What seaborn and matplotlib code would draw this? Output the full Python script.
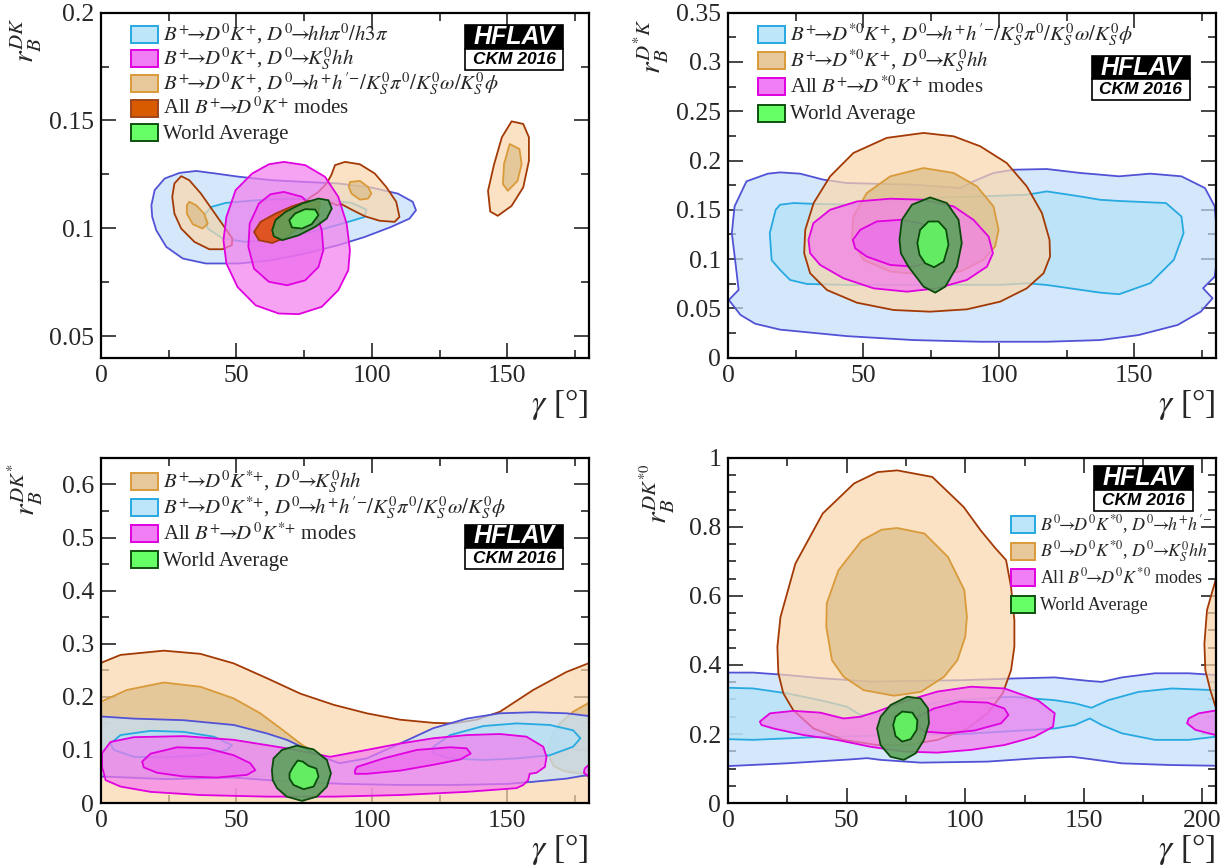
import numpy as np
import matplotlib
matplotlib.use("Agg")
import matplotlib.pyplot as plt
import seaborn as sns
from matplotlib.patches import Rectangle
from matplotlib.colors import to_rgba
from matplotlib.ticker import MultipleLocator, FuncFormatter

# ---------------- data: contour outlines, (gamma [deg], r_B) ----------------
# panel 1 : B+ -> D0 K+
dk_glw_out = [(18.6, .1107), (19.8, .1177), (23.5, .1231), (29.0, .1257), (35.1, .1266), (42.4, .1254),
              (51.0, .1239), (63.2, .1223), (75.4, .1215), (87.6, .1208), (99.8, .1189), (109.6, .1161),
              (115.1, .1123), (116.3, .1084), (113.9, .1045), (107.2, .1007), (97.4, .0960), (87.6, .0922),
              (75.4, .0883), (63.2, .0852), (51.0, .0837), (38.7, .0837), (30.2, .0860), (24.1, .0914),
              (20.4, .0991), (18.9, .1053)]
dk_glw_in = [(38.1, .1061), (40.6, .1099), (46.1, .1118), (57.1, .1130), (69.3, .1137), (81.5, .1133),
             (92.5, .1118), (98.0, .1087), (97.4, .1053), (91.3, .1030), (82.7, .0999), (73.0, .0968),
             (63.2, .0945), (53.4, .0937), (44.9, .0953), (39.4, .0999)]
dk_ggsz_out = [(67.5, .1308), (75.4, .1293), (82.7, .1239), (87.6, .1146), (90.7, .1022), (91.9, .0899),
               (91.3, .0806), (87.6, .0713), (81.5, .0636), (73.0, .0602), (65.6, .0605), (57.1, .0643),
               (50.4, .0728), (46.3, .0837), (45.2, .0945), (46.3, .1053), (49.7, .1177), (55.8, .1254),
               (62.0, .1297)]
dk_ggsz_in = [(67.5, .1169), (74.2, .1146), (79.1, .1084), (81.5, .0991), (82.1, .0899), (80.3, .0821),
              (75.4, .0759), (68.7, .0736), (62.0, .0752), (56.5, .0813), (54.4, .0914), (54.9, .1022),
              (58.3, .1115), (62.6, .1158)]
dk_ads_out = [
    [(29.6, .1242), (32.6, .1223), (36.9, .1161), (41.2, .1084), (45.5, .1007), (48.5, .0953), (48.3, .0922),
     (44.8, .0903), (40.0, .0903), (34.5, .0937), (29.6, .0999), (27.1, .1068), (26.3, .1146), (27.1, .1208)],
    [(85.0, .1246), (86.4, .1293), (90.1, .1308), (95.6, .1297), (101.1, .1254), (105.3, .1192), (109.0, .1123),
     (110.2, .1053), (108.4, .1030), (102.9, .1035), (97.4, .1056), (92.5, .1087), (88.8, .1112), (87.0, .1107),
     (85.2, .1118), (80.3, .1099), (76.0, .1107), (76.6, .1138), (80.3, .1169), (83.3, .1208)],
    [(151.6, .1496), (155.9, .1484), (158.0, .1422), (158.0, .1313), (155.9, .1190), (151.6, .1104),
     (146.5, .1058), (143.7, .1078), (142.9, .1174), (145.1, .1295), (148.0, .1422)],
]
dk_ads_in = [
    [(32.6, .1123), (35.1, .1107), (38.1, .1068), (39.4, .1022), (37.5, .0999), (33.9, .1019), (31.7, .1068),
     (31.7, .1107)],
    [(91.9, .1215), (95.6, .1220), (98.6, .1192), (99.8, .1161), (98.6, .1138), (95.6, .1133), (92.5, .1161),
     (91.5, .1192)],
    [(150.9, .1391), (154.5, .1368), (155.3, .1298), (153.8, .1220), (150.2, .1174), (148.4, .1205),
     (148.8, .1298)],
]
dk_all = [(56.5, .0983), (58.9, .1030), (64.4, .1068), (70.5, .1102), (76.6, .1127), (80.9, .1123),
          (80.3, .1068), (74.2, .1014), (68.1, .0957), (63.2, .0932), (58.3, .0945)]
dk_wa_out = [(63.2, .0991), (64.4, .1038), (68.1, .1076), (74.2, .1115), (80.3, .1138), (84.0, .1130),
             (85.2, .1092), (83.3, .1045), (79.1, .1007), (73.0, .0968), (66.9, .0945), (63.8, .0963)]
dk_wa_in = [(69.5, .1038), (71.7, .1069), (75.4, .1089), (79.1, .1087), (80.3, .1061), (77.8, .1019),
            (74.2, .0999), (70.5, .1004)]

# panel 2 : B+ -> D*0 K+
dsk_glw_out = [(0.3, .0586), (3.9, .0688), (2.9, .0925), (1.4, .1264), (2.4, .1535), (6.8, .1789), (14.7, .1867),
               (19.2, .1880), (26.6, .1867), (35.2, .1806), (43.9, .1772), (68.5, .1755), (85.7, .1721),
               (90.6, .1789), (98.0, .1874), (105.4, .1907), (117.7, .1914), (130.0, .1874), (137.4, .1857),
               (144.4, .1840), (155.9, .1867), (167.4, .1840), (176.1, .1721), (179.7, .1535), (181.0, .1095),
               (179.7, .0823), (175.4, .0705), (178.9, .0603), (174.6, .0468), (166.0, .0332), (151.6, .0230),
               (137.4, .0179), (117.7, .0162), (93.1, .0162), (68.5, .0179), (43.9, .0219), (19.2, .0285),
               (10.0, .0345), (4.6, .0434)]
dsk_glw_in = [(15.4, .1264), (17.6, .1501), (19.2, .1552), (24.2, .1569), (32.0, .1560), (46.4, .1552),
              (72.3, .1620), (94.0, .1637), (110.3, .1653), (117.7, .1687), (130.0, .1636), (137.4, .1602),
              (144.4, .1590), (161.7, .1569), (167.4, .1433), (168.2, .1264), (164.6, .0993), (155.9, .0756),
              (144.4, .0644), (137.4, .0660), (117.7, .0738), (110.3, .0755), (101.2, .0740), (72.3, .0739),
              (43.5, .0739), (29.1, .0748), (22.9, .0789), (19.2, .0891), (16.1, .0990)]
dsk_ggsz_out = [(72.2, .2280), (83.3, .2246), (93.1, .2145), (102.9, .1975), (110.3, .1738), (115.9, .1467),
                (118.7, .1196), (118.9, .1026), (116.5, .0857), (110.3, .0704), (100.5, .0569), (88.2, .0491),
                (74.6, .0467), (61.1, .0484), (47.6, .0558), (36.5, .0687), (30.3, .0857), (28.1, .1060),
                (28.5, .1297), (31.6, .1569), (37.7, .1840), (46.3, .2077), (58.6, .2230)]
dsk_ggsz_in = [(72.2, .1924), (83.3, .1874), (91.9, .1738), (98.0, .1535), (99.9, .1297), (98.6, .1128),
               (94.3, .0992), (85.7, .0874), (73.4, .0840), (59.9, .0874), (50.0, .0992), (45.7, .1196),
               (46.3, .1433), (51.2, .1670), (59.9, .1840)]
dsk_all_out = [(29.7, .1196), (31.5, .1365), (37.7, .1501), (47.6, .1585), (59.9, .1613), (72.2, .1602),
               (83.3, .1535), (90.6, .1399), (96.2, .1229), (97.8, .1060), (95.6, .0924), (88.2, .0789),
               (77.1, .0704), (66.0, .0670), (53.7, .0704), (42.6, .0806), (34.0, .0941), (30.3, .1060)]
dsk_all_in = [(46.1, .1196), (48.8, .1297), (54.9, .1382), (63.6, .1399), (70.9, .1365), (79.6, .1263),
              (80.8, .1128), (77.1, .0992), (68.5, .0924), (59.9, .0941), (51.2, .1026), (46.9, .1111)]
dsk_wa_out = [(63.3, .1196), (64.2, .1399), (67.9, .1552), (74.6, .1626), (80.8, .1569), (85.1, .1399),
              (86.3, .1162), (84.5, .0924), (80.2, .0721), (76.5, .0660), (72.2, .0721), (66.6, .0924),
              (63.8, .1060)]
dsk_wa_in = [(69.9, .1162), (70.9, .1297), (74.0, .1382), (77.7, .1382), (80.5, .1297), (81.4, .1145),
             (79.6, .0975), (76.1, .0918), (72.8, .0958), (70.7, .1043)]

# panel 3 : B+ -> D0 K*+
dks_ggsz_out = [(-1, 0), (-1, .264), (0, .264), (7.2, .279), (23.2, .287), (36.7, .281), (49.0, .263),
                (61.3, .235), (73.6, .206), (85.9, .185), (98.1, .169), (110.4, .157), (122.7, .151),
                (130.1, .150), (138.7, .157), (147.3, .172), (159.6, .213), (171.9, .247), (179.9, .263),
                (181, .264), (181, 0)]
dks_ggsz_in = [
    [(-1, .05), (-1, .191), (0, .191), (9.6, .213), (23.2, .227), (36.7, .219), (49.0, .197), (58.8, .169),
     (66.2, .141), (73.6, .112), (77.2, .100), (79.0, .080), (78.0, .060), (60.0, .050), (30.0, .050),
     (0, .050)],
    [(181, .190), (179.9, .188), (174.3, .172), (169.4, .150), (165.7, .119), (165.1, .093), (167.0, .070),
     (171.0, .060), (176.0, .056), (181, .055)],
]
dks_glw_out = [(-1, .163), (0, .163), (12.1, .159), (30.5, .156), (49.0, .147), (61.3, .131), (68.6, .119),
               (73.6, .107), (80.0, .090), (88.0, .075), (98.1, .084), (110.4, .112), (122.7, .141),
               (135.0, .159), (147.3, .169), (159.6, .171), (171.9, .169), (179.9, .164), (181, .164),
               (181, .053), (179.9, .053), (171.9, .046), (159.6, .040), (150.0, .036), (130.0, .034),
               (110.0, .034), (90.0, .036), (70.0, .040), (49.0, .048), (24.4, .045), (0, .050), (-1, .050)]
dks_glw_in = [
    [(3.5, .112), (7.2, .128), (18.3, .136), (30.5, .134), (41.6, .125), (48.4, .109), (46.5, .100),
     (36.7, .090), (24.4, .086), (12.1, .087), (4.7, .100)],
    [(122.7, .106), (128.9, .128), (141.2, .145), (153.5, .150), (165.7, .147), (174.3, .137), (177.0, .122),
     (174.3, .106), (165.7, .090), (153.5, .084), (141.2, .081), (128.9, .084), (122.7, .093)],
]
dks_all_out = [
    [(0.4, .094), (3.5, .115), (12.1, .124), (30.5, .126), (49.0, .119), (61.3, .109), (68.6, .103),
     (84.6, .087), (98.1, .100), (110.4, .112), (122.7, .122), (135.0, .128), (147.3, .130), (157.1, .125),
     (163.3, .106), (164.5, .087), (163.9, .068), (160.8, .057), (158.3, .055), (157.7, .043), (155.9, .034),
     (153.4, .028), (135.0, .021), (110.4, .015), (85.9, .012), (61.3, .012), (36.7, .015), (18.3, .021),
     (7.2, .031), (1.7, .043), (0.4, .068)],
    [(181, .072), (179.9, .071), (178.6, .065), (178.3, .057), (179.9, .050), (181, .050)],
]
dks_all_in = [
    [(15.2, .078), (18.3, .093), (28.1, .105), (39.2, .103), (49.0, .090), (55.1, .075), (57.0, .062),
     (53.9, .053), (42.8, .048), (30.5, .050), (20.7, .057), (15.8, .067)],
    [(93.8, .062), (94.5, .068), (104.3, .084), (116.6, .100), (128.9, .105), (135.0, .103), (136.5, .093),
     (132.6, .082), (122.7, .072), (110.4, .061), (98.1, .055), (93.8, .055)],
]
dks_wa_out = [(63.1, .062), (63.7, .084), (66.8, .100), (72.3, .108), (78.5, .101), (83.4, .081), (84.9, .056),
              (83.4, .031), (79.7, .012), (74.2, .004), (68.6, .012), (65.0, .028), (63.4, .043)]
dks_wa_in = [(69.6, .056), (70.9, .068), (72.6, .080), (74.5, .078), (76.6, .070), (79.5, .065), (80.3, .050),
             (78.5, .031), (74.8, .026), (71.1, .034), (69.6, .046)]

# panel 4 : B0 -> D0 K*0
dk0_glw_out = [(-1, .378), (0, .378), (10.6, .378), (24.7, .371), (38.8, .362), (60.0, .352), (99.3, .356),
               (120.7, .361), (137.7, .364), (151.8, .354), (157.5, .351), (166.0, .364), (180.0, .376),
               (194.2, .376), (205.5, .371), (210, .370), (210, .108), (205.5, .108), (187.1, .110),
               (166.0, .115), (151.8, .128), (144.8, .134), (130.6, .130), (109.4, .120), (81.2, .117),
               (64.3, .125), (58.6, .130), (53.0, .127), (24.7, .115), (0, .107), (-1, .107)]
dk0_glw_in = [(-1, .334), (0, .334), (10.6, .332), (24.7, .318), (38.8, .298), (50.1, .279), (55.8, .255),
              (70.0, .262), (90.0, .295), (119.3, .308), (137.7, .298), (146.2, .289), (153.2, .276),
              (160.3, .298), (173.0, .322), (187.1, .332), (205.5, .327), (210, .327), (210, .192),
              (205.5, .192), (194.2, .183), (180.0, .183), (166.0, .202), (157.5, .226), (152.5, .245),
              (146.2, .226), (137.7, .216), (123.6, .210), (99.3, .200), (66.3, .196), (33.3, .190),
              (10.6, .183), (0, .185), (-1, .185)]
dk0_ggsz_out = [
    [(71.3, .964), (86.1, .945), (99.3, .858), (106.5, .790), (112.5, .740), (117.2, .704), (119.3, .626),
     (120.7, .530), (120.7, .453), (119.3, .385), (115.8, .318), (109.4, .260), (101.0, .216), (88.3, .183),
     (75.6, .168), (62.8, .168), (48.7, .183), (36.0, .216), (27.5, .269), (23.3, .318), (21.2, .376),
     (20.8, .453), (22.1, .539), (28.4, .694), (39.9, .839), (53.1, .926), (63.0, .959)],
    [(210, .700), (205.5, .646), (201.9, .559), (200.8, .462), (201.2, .385), (203.3, .327), (205.5, .279),
     (210, .240)],
]
dk0_ggsz_in = [(71.3, .797), (82.8, .781), (92.7, .713), (99.6, .617), (100.7, .540), (100.0, .482), (96.7, .414),
               (91.1, .366), (81.2, .322), (69.9, .311), (57.2, .327), (48.7, .366), (43.8, .414), (41.4, .511),
               (41.6, .578), (46.5, .674), (56.4, .761), (64.7, .792)]
dk0_all_out = [
    [(13.4, .236), (17.7, .260), (27.5, .267), (38.8, .262), (48.7, .245), (55.8, .250), (62.8, .265),
     (74.1, .294), (88.3, .323), (102.4, .337), (116.5, .332), (130.6, .298), (137.7, .260), (137.0, .221),
     (129.2, .192), (116.5, .168), (102.4, .154), (88.3, .146), (74.1, .149), (60.0, .163), (45.9, .183),
     (31.8, .197), (19.1, .216), (14.1, .226)],
    [(210, .270), (205.5, .268), (198.4, .260), (194.2, .245), (193.5, .231), (197.0, .212), (205.5, .197),
     (210, .196)],
]
dk0_all_in = [(79.8, .250), (86.8, .274), (98.1, .294), (109.4, .291), (116.5, .274), (118.2, .255), (115.1, .231),
              (103.8, .210), (92.5, .202), (82.6, .207), (80.5, .221)]
dk0_wa_out = [(62.8, .216), (64.3, .250), (68.5, .284), (75.6, .308), (81.2, .303), (84.3, .274), (84.7, .231),
              (82.6, .183), (79.1, .144), (74.1, .125), (68.5, .134), (64.3, .168)]
dk0_wa_in = [(69.6, .226), (70.6, .250), (73.4, .265), (77.7, .262), (79.8, .240), (79.5, .212), (77.0, .185),
             (73.4, .178), (70.6, .194)]

# legend texts
arr = r"\!\!\rightarrow\!\!"
hhp = r"h^{+}h^{\prime{-}}"
ks = r"K_{S}^{0}"
labels_dk = [rf"$B^{{+}}{arr}D^{{0}}K^{{+}}$, $D^{{0}}{arr}hh\pi^{{0}}/h3\pi$",
             rf"$B^{{+}}{arr}D^{{0}}K^{{+}}$, $D^{{0}}{arr}{ks}hh$",
             rf"$B^{{+}}{arr}D^{{0}}K^{{+}}$, $D^{{0}}{arr}{hhp}/{ks}\pi^{{0}}/{ks}\omega/{ks}\phi$",
             rf"All $B^{{+}}{arr}D^{{0}}K^{{+}}$ modes",
             "World Average"]
labels_dsk = [rf"$B^{{+}}{arr}D^{{*0}}K^{{+}}$, $D^{{0}}{arr}{hhp}/{ks}\pi^{{0}}/{ks}\omega/{ks}\phi$",
              rf"$B^{{+}}{arr}D^{{*0}}K^{{+}}$, $D^{{0}}{arr}{ks}hh$",
              rf"All $B^{{+}}{arr}D^{{*0}}K^{{+}}$ modes",
              "World Average"]
labels_dks = [rf"$B^{{+}}{arr}D^{{0}}K^{{*{{+}}}}$, $D^{{0}}{arr}{ks}hh$",
              rf"$B^{{+}}{arr}D^{{0}}K^{{*{{+}}}}$, $D^{{0}}{arr}{hhp}/{ks}\pi^{{0}}/{ks}\omega/{ks}\phi$",
              rf"All $B^{{+}}{arr}D^{{0}}K^{{*{{+}}}}$ modes",
              "World Average"]
labels_dk0 = [rf"$B^{{0}}{arr}D^{{0}}K^{{*0}}$, $D^{{0}}{arr}{hhp}$",
              rf"$B^{{0}}{arr}D^{{0}}K^{{*0}}$, $D^{{0}}{arr}{ks}hh$",
              rf"All $B^{{0}}{arr}D^{{0}}K^{{*0}}$ modes",
              "World Average"]

# ---------------- style ----------------
sns.set_theme(style="ticks")
plt.rcParams["font.family"] = ["Liberation Serif", "DejaVu Serif"]
plt.rcParams["mathtext.fontset"] = "stix"

A = 0.7
# (outer fill, inner fill, outer line, inner line, alpha, legend fill, legend edge)
STY = {
    "blue": ("#c4dffa", "#b2e1f7", "#5252d6", "#27a9e1", A, "#bde6fa", "#27a9e1"),
    "mag": ("#f47cee", "#ec6bed", "#e000e0", "#e000e0", A, "#f27ef5", "#e000e0"),
    "tan": ("#fcd6ac", "#dcbd89", "#a33a06", "#d99a3a", A, "#e6c89b", "#d99a3a"),
    "orange": ("#df4e00", "#df4e00", "#a03c0c", "#a03c0c", 0.85, "#d95b00", "#a0461a"),
    "green": ("#59a359", "#63f863", "#0c4a0c", "#0c4a0c", 0.88, "#66ff66", "#105010"),
}


def polys(p):
    # one outline or a list of outlines
    return p if isinstance(p[0], list) else [p]


def draw(ax, key, outer, inner):
    fo, fi, lo, li, a, _, _ = STY[key]
    for p in polys(outer):
        p = np.array(p)
        ax.fill(p[:, 0], p[:, 1], facecolor=to_rgba(fo, a), edgecolor=lo, lw=1.3, joinstyle="round")
    if inner is not None:
        for p in polys(inner):
            p = np.array(p)
            ax.fill(p[:, 0], p[:, 1], facecolor=to_rgba(fi, a), edgecolor=li, lw=1.3, joinstyle="round")


def hflav(ax, x0, x1, ytop, ymid, ybot):
    ax.add_patch(Rectangle((x0, ymid), x1 - x0, ytop - ymid, transform=ax.transAxes,
                           facecolor="black", edgecolor="black", lw=1.2, zorder=6))
    ax.add_patch(Rectangle((x0, ybot), x1 - x0, ymid - ybot, transform=ax.transAxes,
                           facecolor="white", edgecolor="black", lw=1.2, zorder=6))
    ax.text((x0 + x1) / 2, (ytop + ymid) / 2, "HFLAV", transform=ax.transAxes, ha="center", va="center",
            color="white", fontsize=18, fontweight="bold", style="italic", family="Liberation Sans", zorder=7)
    ax.text((x0 + x1) / 2, (ymid + ybot) / 2, "CKM 2016", transform=ax.transAxes, ha="center", va="center",
            color="black", fontsize=12.5, fontweight="bold", style="italic", family="Liberation Sans", zorder=7)


def frame(ax, xmax, ylo, yhi, ymaj, ymin, ylabel, lab_x):
    ax.set_xlim(0, xmax)
    ax.set_ylim(ylo, yhi)
    ax.xaxis.set_major_locator(MultipleLocator(50))
    ax.xaxis.set_minor_locator(MultipleLocator(25))
    ax.yaxis.set_major_locator(MultipleLocator(ymaj))
    ax.yaxis.set_minor_locator(MultipleLocator(ymin))
    ax.yaxis.set_major_formatter(FuncFormatter(lambda v, p: f"{v:g}"))
    ax.tick_params(which="both", direction="in", top=True, right=True, width=1.2, labelsize=18.5)
    ax.tick_params(which="major", length=11, pad=5)
    ax.tick_params(which="minor", length=6)
    for s in ax.spines.values():
        s.set_linewidth(1.6)
        s.set_color("black")
        s.set_zorder(5)
    ax.set_xlabel(r"$\gamma$ [°]", fontsize=24, loc="right", labelpad=0)
    ax.set_ylabel(ylabel, fontsize=21.5, loc="top")
    ax.yaxis.set_label_coords(lab_x, 0.985)


def legend(ax, keys, labels, hx, tx, y0, dy, hw, fs):
    # ROOT-style legend: filled boxes with the label next to them
    for i, (k, lab) in enumerate(zip(keys, labels)):
        yc = y0 - i * dy
        ax.add_patch(Rectangle((hx, yc - 0.0245), hw, 0.049, transform=ax.transAxes,
                               facecolor=STY[k][5], edgecolor=STY[k][6], lw=1.4, zorder=6))
        ax.text(tx, yc - 0.017, lab, transform=ax.transAxes, ha="left", va="baseline", fontsize=fs, zorder=7)


fig = plt.figure(figsize=(12.23, 8.67), dpi=100)
ax1 = fig.add_axes([0.0826, 0.5874, 0.3986, 0.398])
ax2 = fig.add_axes([0.5953, 0.5874, 0.3986, 0.398])
ax3 = fig.add_axes([0.0826, 0.0738, 0.3986, 0.398])
ax4 = fig.add_axes([0.5953, 0.0738, 0.3986, 0.398])

# panel 1
draw(ax1, "blue", dk_glw_out, dk_glw_in)
draw(ax1, "tan", dk_ads_out, dk_ads_in)
draw(ax1, "mag", dk_ggsz_out, dk_ggsz_in)
draw(ax1, "orange", dk_all, None)
draw(ax1, "green", dk_wa_out, dk_wa_in)
frame(ax1, 180, 0.04, 0.2, 0.05, 0.025, r"$r_{B}^{DK}$", -0.117)
legend(ax1, ["blue", "mag", "tan", "orange", "green"], labels_dk, 0.0616, 0.127, 0.938, 0.0716, 0.055, 15)
hflav(ax1, 0.747, 0.948, 0.963, 0.896, 0.833)

# panel 2
draw(ax2, "blue", dsk_glw_out, dsk_glw_in)
draw(ax2, "tan", dsk_ggsz_out, dsk_ggsz_in)
draw(ax2, "mag", dsk_all_out, dsk_all_in)
draw(ax2, "green", dsk_wa_out, dsk_wa_in)
frame(ax2, 180, 0, 0.35, 0.05, 0.025, r"$r_{B}^{D^{*}K}$", -0.117)
legend(ax2, ["blue", "tan", "mag", "green"], labels_dsk, 0.0616, 0.127, 0.938, 0.0765, 0.055, 15)
hflav(ax2, 0.746, 0.947, 0.874, 0.808, 0.746)

# panel 3
draw(ax3, "tan", dks_ggsz_out, dks_ggsz_in)
draw(ax3, "blue", dks_glw_out, dks_glw_in)
draw(ax3, "mag", dks_all_out, dks_all_in)
draw(ax3, "green", dks_wa_out, dks_wa_in)
frame(ax3, 180, 0, 0.65, 0.1, 0.05, r"$r_{B}^{DK^{*}}$", -0.114)
legend(ax3, ["tan", "blue", "mag", "green"], labels_dks, 0.0616, 0.127, 0.933, 0.0759, 0.055, 15)
hflav(ax3, 0.747, 0.948, 0.807, 0.740, 0.679)

# panel 4
draw(ax4, "blue", dk0_glw_out, dk0_glw_in)
draw(ax4, "tan", dk0_ggsz_out, dk0_ggsz_in)
draw(ax4, "mag", dk0_all_out, dk0_all_in)
draw(ax4, "green", dk0_wa_out, dk0_wa_in)
frame(ax4, 205.5, 0, 1.0, 0.2, 0.05, r"$r_{B}^{DK^{*0}}$", -0.105)
legend(ax4, ["blue", "tan", "mag", "green"], labels_dk0, 0.581, 0.639, 0.807, 0.077, 0.049, 13)
hflav(ax4, 0.75, 0.953, 0.976, 0.908, 0.846)

fig.savefig("out.png", dpi=100)
